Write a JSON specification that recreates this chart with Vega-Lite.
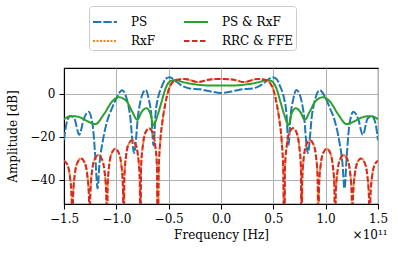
{
 "$schema": "https://vega.github.io/schema/vega-lite/v6.json",
 "width": 314, "height": 136,
 "autosize": {"type": "none"},
 "padding": {"left": 64, "top": 68, "right": 20, "bottom": 50},
 "config": {
  "font": "DejaVu Serif",
  "view": {"stroke": "black", "strokeWidth": 1.1},
  "axis": {"labelFont": "DejaVu Serif", "labelFontSize": 12, "labelColor": "black", "titleFont": "DejaVu Serif", "titleFontSize": 12, "titleFontWeight": "normal", "titleColor": "black", "domainColor": "black", "domainWidth": 1.1, "tickColor": "black", "tickWidth": 1.1, "tickSize": 5, "labelPadding": 4, "labelFlush": false, "gridColor": "#b0b0b0", "gridWidth": 1, "gridOpacity": 1},
  "legend": {"orient": "none", "legendX": 25, "legendY": -62, "columns": 2, "fillColor": "white", "strokeColor": "#cccccc", "cornerRadius": 3, "padding": 3, "rowPadding": -4, "columnPadding": 24, "symbolType": "stroke", "symbolSize": 576, "symbolStrokeWidth": 2, "labelFont": "DejaVu Serif", "labelFontSize": 12, "labelColor": "black", "labelOffset": 13, "labelLimit": 200}
 },
 "title": {"text": "×10¹¹", "orient": "bottom", "anchor": "end", "offset": -10, "font": "DejaVu Serif", "fontSize": 12, "fontWeight": "normal", "color": "black"},
 "datasets": {
  "ps": [
   {"f": -1.5, "a": -21.5}, {"f": -1.475, "a": -13.5}, {"f": -1.44, "a": -10.2}, {"f": -1.4, "a": -11.5}, {"f": -1.355, "a": -19}, {"f": -1.31, "a": -11.5}, {"f": -1.265, "a": -8.3}, {"f": -1.225, "a": -15}, {"f": -1.2, "a": -30}, {"f": -1.18, "a": -44}, {"f": -1.16, "a": -32}, {"f": -1.13, "a": -22}, {"f": -1.09, "a": -13}, {"f": -1.04, "a": -6.5}, {"f": -0.99, "a": -1}, {"f": -0.945, "a": 1.8}, {"f": -0.905, "a": -1.5}, {"f": -0.87, "a": -9.5}, {"f": -0.83, "a": -27.5}, {"f": -0.79, "a": -9}, {"f": -0.75, "a": 0}, {"f": -0.72, "a": 1.9}, {"f": -0.69, "a": -2.5}, {"f": -0.665, "a": -10}, {"f": -0.645, "a": -24}, {"f": -0.625, "a": -9}, {"f": -0.6, "a": -1.5}, {"f": -0.565, "a": 3.5}, {"f": -0.53, "a": 7.0}, {"f": -0.49, "a": 7.8}, {"f": -0.43, "a": 5.8}, {"f": -0.37, "a": 3.8}, {"f": -0.3, "a": 2.6}, {"f": -0.2, "a": 2.2}, {"f": -0.1, "a": 1.2},
   {"f": 0, "a": 0.5},
   {"f": 0.1, "a": 1.2}, {"f": 0.2, "a": 2.2}, {"f": 0.3, "a": 2.6}, {"f": 0.37, "a": 3.8}, {"f": 0.43, "a": 5.8}, {"f": 0.49, "a": 7.8}, {"f": 0.53, "a": 7.0}, {"f": 0.565, "a": 3.5}, {"f": 0.6, "a": -1.5}, {"f": 0.625, "a": -9}, {"f": 0.645, "a": -24}, {"f": 0.665, "a": -10}, {"f": 0.69, "a": -2.5}, {"f": 0.72, "a": 1.9}, {"f": 0.75, "a": 0}, {"f": 0.79, "a": -9}, {"f": 0.83, "a": -27.5}, {"f": 0.87, "a": -9.5}, {"f": 0.905, "a": -1.5}, {"f": 0.945, "a": 1.8}, {"f": 0.99, "a": -1}, {"f": 1.04, "a": -6.5}, {"f": 1.09, "a": -13}, {"f": 1.13, "a": -22}, {"f": 1.16, "a": -32}, {"f": 1.18, "a": -44}, {"f": 1.2, "a": -30}, {"f": 1.225, "a": -15}, {"f": 1.265, "a": -8.3}, {"f": 1.31, "a": -11.5}, {"f": 1.355, "a": -19}, {"f": 1.4, "a": -11.5}, {"f": 1.44, "a": -10.2}, {"f": 1.475, "a": -13.5}, {"f": 1.5, "a": -21.5}
  ],
  "psrx": [
   {"f": -1.5, "a": -11.8}, {"f": -1.47, "a": -10.8}, {"f": -1.42, "a": -10.3}, {"f": -1.34, "a": -11}, {"f": -1.27, "a": -12.8}, {"f": -1.2, "a": -14}, {"f": -1.12, "a": -9.5}, {"f": -1.04, "a": -3.5}, {"f": -0.975, "a": -1.5}, {"f": -0.9, "a": -3.5}, {"f": -0.85, "a": -8}, {"f": -0.8, "a": -12}, {"f": -0.76, "a": -8.5}, {"f": -0.715, "a": -6.6}, {"f": -0.675, "a": -9}, {"f": -0.645, "a": -14.5}, {"f": -0.61, "a": -10.5}, {"f": -0.57, "a": -4}, {"f": -0.53, "a": 2.5}, {"f": -0.49, "a": 5.8}, {"f": -0.44, "a": 6.5}, {"f": -0.36, "a": 5.5}, {"f": -0.25, "a": 4.5}, {"f": -0.13, "a": 4.0},
   {"f": 0, "a": 4.0},
   {"f": 0.13, "a": 4.0}, {"f": 0.25, "a": 4.5}, {"f": 0.36, "a": 5.5}, {"f": 0.44, "a": 6.5}, {"f": 0.49, "a": 5.8}, {"f": 0.53, "a": 2.5}, {"f": 0.57, "a": -4}, {"f": 0.61, "a": -10.5}, {"f": 0.645, "a": -14.5}, {"f": 0.675, "a": -9}, {"f": 0.715, "a": -6.6}, {"f": 0.76, "a": -8.5}, {"f": 0.8, "a": -12}, {"f": 0.85, "a": -8}, {"f": 0.9, "a": -3.5}, {"f": 0.975, "a": -1.5}, {"f": 1.04, "a": -3.5}, {"f": 1.12, "a": -9.5}, {"f": 1.2, "a": -14}, {"f": 1.27, "a": -12.8}, {"f": 1.34, "a": -11}, {"f": 1.42, "a": -10.3}, {"f": 1.47, "a": -10.8}, {"f": 1.5, "a": -11.8}
  ],
  "rrc": [
   {"f": -1.5, "a": -31.1}, {"f": -1.4695, "a": -32.8}, {"f": -1.4448, "a": -37.9}, {"f": -1.4266, "a": -49},
   {"f": -1.42, "a": -80}, {"f": -1.4134, "a": -48}, {"f": -1.3953, "a": -36.9}, {"f": -1.3705, "a": -31.8}, {"f": -1.3375, "a": -30}, {"f": -1.3045, "a": -31.8}, {"f": -1.2798, "a": -36.9}, {"f": -1.2616, "a": -48},
   {"f": -1.255, "a": -80}, {"f": -1.2484, "a": -46.4}, {"f": -1.2303, "a": -35.3}, {"f": -1.2055, "a": -30.2}, {"f": -1.1725, "a": -28.4}, {"f": -1.1395, "a": -30.2}, {"f": -1.1148, "a": -35.3}, {"f": -1.0966, "a": -46.4},
   {"f": -1.09, "a": -80}, {"f": -1.0836, "a": -43.5}, {"f": -1.066, "a": -32.4}, {"f": -1.042, "a": -27.3}, {"f": -1.01, "a": -25.5}, {"f": -0.978, "a": -27.3}, {"f": -0.954, "a": -32.4}, {"f": -0.9364, "a": -43.5},
   {"f": -0.93, "a": -80}, {"f": -0.9236, "a": -39.5}, {"f": -0.906, "a": -28.4}, {"f": -0.882, "a": -23.3}, {"f": -0.85, "a": -21.5}, {"f": -0.818, "a": -23.3}, {"f": -0.794, "a": -28.4}, {"f": -0.7764, "a": -39.5},
   {"f": -0.77, "a": -80}, {"f": -0.7634, "a": -34}, {"f": -0.7453, "a": -23.5}, {"f": -0.7205, "a": -17.8}, {"f": -0.6875, "a": -16}, {"f": -0.6545, "a": -17.8}, {"f": -0.6298, "a": -23.5}, {"f": -0.6116, "a": -34},
   {"f": -0.605, "a": -80}, {"f": -0.595, "a": -36}, {"f": -0.58, "a": -22}, {"f": -0.56, "a": -13}, {"f": -0.53, "a": -4}, {"f": -0.5, "a": 2.0}, {"f": -0.46, "a": 5.6}, {"f": -0.42, "a": 6.6}, {"f": -0.35, "a": 7.0}, {"f": -0.22, "a": 5.6}, {"f": -0.1, "a": 6.8},
   {"f": 0, "a": 7.0},
   {"f": 0.1, "a": 6.8}, {"f": 0.22, "a": 5.6}, {"f": 0.35, "a": 7.0}, {"f": 0.42, "a": 6.6}, {"f": 0.46, "a": 5.6}, {"f": 0.5, "a": 2.0}, {"f": 0.53, "a": -4}, {"f": 0.56, "a": -13}, {"f": 0.58, "a": -22}, {"f": 0.595, "a": -36}, {"f": 0.605, "a": -80},
   {"f": 0.6116, "a": -34}, {"f": 0.6298, "a": -23.5}, {"f": 0.6545, "a": -17.8}, {"f": 0.6875, "a": -16}, {"f": 0.7205, "a": -17.8}, {"f": 0.7453, "a": -23.5}, {"f": 0.7634, "a": -34}, {"f": 0.77, "a": -80},
   {"f": 0.7764, "a": -39.5}, {"f": 0.794, "a": -28.4}, {"f": 0.818, "a": -23.3}, {"f": 0.85, "a": -21.5}, {"f": 0.882, "a": -23.3}, {"f": 0.906, "a": -28.4}, {"f": 0.9236, "a": -39.5}, {"f": 0.93, "a": -80},
   {"f": 0.9364, "a": -43.5}, {"f": 0.954, "a": -32.4}, {"f": 0.978, "a": -27.3}, {"f": 1.01, "a": -25.5}, {"f": 1.042, "a": -27.3}, {"f": 1.066, "a": -32.4}, {"f": 1.0836, "a": -43.5}, {"f": 1.09, "a": -80},
   {"f": 1.0966, "a": -46.4}, {"f": 1.1148, "a": -35.3}, {"f": 1.1395, "a": -30.2}, {"f": 1.1725, "a": -28.4}, {"f": 1.2055, "a": -30.2}, {"f": 1.2303, "a": -35.3}, {"f": 1.2484, "a": -46.4}, {"f": 1.255, "a": -80},
   {"f": 1.2616, "a": -48}, {"f": 1.2798, "a": -36.9}, {"f": 1.3045, "a": -31.8}, {"f": 1.3375, "a": -30}, {"f": 1.3705, "a": -31.8}, {"f": 1.3953, "a": -36.9}, {"f": 1.4134, "a": -48}, {"f": 1.42, "a": -80},
   {"f": 1.4266, "a": -49}, {"f": 1.4448, "a": -37.9}, {"f": 1.4695, "a": -32.8}, {"f": 1.5, "a": -31.1}
  ]
 },
 "encoding": {
  "x": {"field": "f", "type": "quantitative", "scale": {"domain": [-1.5, 1.5], "nice": false, "zero": false}, "axis": {"values": [-1.5, -1, -0.5, 0, 0.5, 1, 1.5], "format": ".1f", "title": "Frequency [Hz]", "titlePadding": 5}},
  "y": {"field": "a", "type": "quantitative", "scale": {"domain": [-51.2, 12.1], "nice": false, "zero": false}, "axis": {"values": [-40, -20, 0], "title": "Amplitude [dB]", "titlePadding": 10}}
 },
 "layer": [
  {"data": {"name": "ps"}, "mark": {"type": "line", "strokeWidth": 2, "interpolate": "monotone", "clip": true},
   "encoding": {"color": {"datum": "PS", "type": "nominal", "scale": {"domain": ["PS", "RxF", "PS & RxF", "RRC & FFE"], "range": ["#1f77b4", "#ff7f0e", "#2ca02c", "#d62728"]}, "legend": {"title": null}},
    "strokeDash": {"datum": "PS", "type": "nominal", "scale": {"domain": ["PS", "RxF", "PS & RxF", "RRC & FFE"], "range": [[8.3, 2.1], [2, 1.5], [1, 0], [5.5, 2.5]]}, "legend": {"title": null}}}},
  {"data": {"name": "rrc"}, "mark": {"type": "line", "strokeWidth": 2, "interpolate": "monotone", "clip": true},
   "encoding": {"color": {"datum": "RxF", "type": "nominal"}, "strokeDash": {"datum": "RxF", "type": "nominal"}}},
  {"data": {"name": "psrx"}, "mark": {"type": "line", "strokeWidth": 2, "interpolate": "monotone", "clip": true},
   "encoding": {"color": {"datum": "PS & RxF", "type": "nominal"}, "strokeDash": {"datum": "PS & RxF", "type": "nominal"}}},
  {"data": {"name": "rrc"}, "mark": {"type": "line", "strokeWidth": 2, "interpolate": "monotone", "clip": true},
   "encoding": {"color": {"datum": "RRC & FFE", "type": "nominal"}, "strokeDash": {"datum": "RRC & FFE", "type": "nominal"}}}
 ]
}
